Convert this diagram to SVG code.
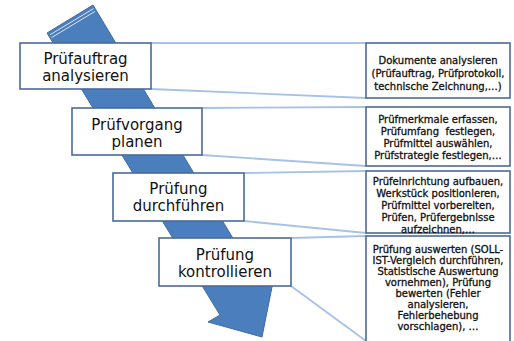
<svg xmlns="http://www.w3.org/2000/svg" width="514" height="341" viewBox="0 0 514 341">
<style>
.bx{fill:#fff;stroke:#4a6a9a;stroke-width:1.6}
.t{font-family:"DejaVu Sans",Verdana,sans-serif;font-size:15px;fill:#111;text-anchor:middle}
.s{font-family:"DejaVu Sans",Verdana,sans-serif;font-size:10px;fill:#111;stroke:#111;stroke-width:0.3;text-anchor:middle}
.c{stroke:#a6c2e6;stroke-width:1.8;fill:none}
</style>
<rect width="514" height="341" fill="#fff"/>
<g id="arrow">
<polygon points="47,33 93,5 246,260 280,246 272,287 262,337 208,322 220,315" fill="#4a7ebd" stroke="#3f6da6" stroke-width="1"/>
<line x1="50" y1="34.8" x2="93.5" y2="8.6" stroke="#dbe6f3" stroke-width="1"/>
<line x1="51.5" y1="37.6" x2="95" y2="11.4" stroke="#dbe6f3" stroke-width="1"/>
</g>
<g id="connectors">
<line class="c" x1="151" y1="43" x2="366" y2="43"/>
<line class="c" x1="151" y1="89" x2="366" y2="98"/>
<line class="c" x1="202" y1="108" x2="366" y2="107"/>
<line class="c" x1="202" y1="155" x2="366" y2="166"/>
<line class="c" x1="244" y1="173" x2="366" y2="171"/>
<line class="c" x1="244" y1="221" x2="366" y2="233"/>
<line class="c" x1="291" y1="238" x2="366" y2="236"/>
<line class="c" x1="291" y1="286" x2="366" y2="341"/>
</g>
<g id="step1">
<rect class="bx" x="20" y="43" width="131" height="46"/>
<text class="t" x="85.5" y="64">Prüfauftrag</text>
<text class="t" x="85.5" y="81">analysieren</text>
</g>
<g id="step2">
<rect class="bx" x="72" y="108" width="130" height="47"/>
<text class="t" x="137" y="130">Prüfvorgang</text>
<text class="t" x="137" y="147">planen</text>
</g>
<g id="step3">
<rect class="bx" x="113" y="173" width="131" height="48"/>
<text class="t" x="178.5" y="194">Prüfung</text>
<text class="t" x="178.5" y="211">durchführen</text>
</g>
<g id="step4">
<rect class="bx" x="159" y="238" width="132" height="48"/>
<text class="t" x="225" y="260">Prüfung</text>
<text class="t" x="225" y="277">kontrollieren</text>
</g>
<g id="desc1">
<rect class="bx" x="366" y="43" width="144" height="55"/>
<text class="s" x="438" y="64">Dokumente analysieren</text>
<text class="s" x="438" y="77">(Prüfauftrag, Prüfprotokoll,</text>
<text class="s" x="438" y="90">technische Zeichnung,…)</text>
</g>
<g id="desc2">
<rect class="bx" x="366" y="107" width="144" height="59"/>
<text class="s" x="438" y="123">Prüfmerkmale erfassen,</text>
<text class="s" x="438" y="135" xml:space="preserve">Prüfumfang  festlegen,</text>
<text class="s" x="438" y="147">Prüfmittel auswählen,</text>
<text class="s" x="438" y="159">Prüfstrategie festlegen,…</text>
</g>
<g id="desc3">
<rect class="bx" x="366" y="171" width="144" height="62"/>
<text class="s" x="438" y="185">Prüfeinrichtung aufbauen,</text>
<text class="s" x="438" y="197">Werkstück positionieren,</text>
<text class="s" x="438" y="209">Prüfmittel vorbereiten,</text>
<text class="s" x="438" y="221">Prüfen, Prüfergebnisse</text>
<text class="s" x="438" y="233">aufzeichnen,…</text>
</g>
<g id="desc4">
<rect class="bx" x="366" y="236" width="144" height="110"/>
<text class="s" x="438" y="253">Prüfung auswerten (SOLL-</text>
<text class="s" x="438" y="264">IST-Vergleich durchführen,</text>
<text class="s" x="438" y="275">Statistische Auswertung</text>
<text class="s" x="438" y="286">vornehmen), Prüfung</text>
<text class="s" x="438" y="297">bewerten (Fehler</text>
<text class="s" x="438" y="308">analysieren,</text>
<text class="s" x="438" y="319">Fehlerbehebung</text>
<text class="s" x="438" y="330">vorschlagen), …</text>
</g>
</svg>
